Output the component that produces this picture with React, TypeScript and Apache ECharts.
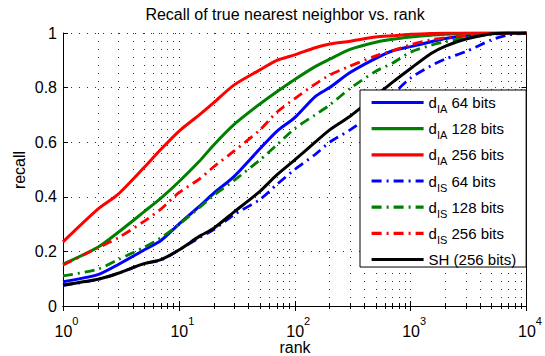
import React, { useEffect, useRef } from "react";
import * as echarts from "echarts";

const ranks = [1, 2, 3, 5, 7, 10, 15, 20, 30, 50, 70, 100, 150, 200, 300, 500, 700, 1000, 1500, 2000, 3000, 5000, 7000, 10000];

const dIA64 = [0.089, 0.115, 0.152, 0.205, 0.24, 0.3, 0.365, 0.413, 0.475, 0.576, 0.64, 0.69, 0.767, 0.8, 0.855, 0.907, 0.935, 0.95, 0.968, 0.98, 0.99, 0.998, 1, 1];
const dIA128 = [0.153, 0.215, 0.27, 0.345, 0.395, 0.455, 0.53, 0.59, 0.665, 0.74, 0.785, 0.83, 0.877, 0.904, 0.94, 0.966, 0.977, 0.985, 0.992, 0.995, 0.999, 1, 1, 1];
const dIA256 = [0.235, 0.355, 0.41, 0.507, 0.574, 0.64, 0.7, 0.745, 0.81, 0.865, 0.9, 0.92, 0.946, 0.96, 0.97, 0.985, 0.99, 0.995, 0.998, 1, 1, 1, 1, 1];
const dIS64 = [0.075, 0.097, 0.12, 0.155, 0.168, 0.205, 0.25, 0.28, 0.335, 0.39, 0.445, 0.5, 0.555, 0.6, 0.645, 0.712, 0.775, 0.835, 0.88, 0.905, 0.932, 0.975, 0.993, 1];
const dIS128 = [0.11, 0.135, 0.17, 0.215, 0.25, 0.298, 0.36, 0.405, 0.46, 0.535, 0.59, 0.65, 0.7, 0.736, 0.797, 0.86, 0.89, 0.93, 0.955, 0.968, 0.982, 0.994, 0.999, 1];
const dIS256 = [0.15, 0.213, 0.25, 0.31, 0.355, 0.415, 0.465, 0.51, 0.568, 0.645, 0.71, 0.76, 0.813, 0.846, 0.879, 0.916, 0.935, 0.957, 0.975, 0.983, 0.99, 0.997, 1, 1];
const SH256 = [0.077, 0.098, 0.12, 0.155, 0.17, 0.205, 0.255, 0.285, 0.345, 0.42, 0.48, 0.535, 0.6, 0.645, 0.695, 0.77, 0.82, 0.87, 0.925, 0.952, 0.978, 0.997, 1, 1];

const seriesNames = ["dIA 64 bits", "dIA 128 bits", "dIA 256 bits", "dIS 64 bits", "dIS 128 bits", "dIS 256 bits", "SH (256 bits)"];
const seriesValues = [dIA64, dIA128, dIA256, dIS64, dIS128, dIS256, SH256];
const seriesColors = ["#0000ff", "#008000", "#ff0000", "#0000ff", "#008000", "#ff0000", "#000000"];
const seriesDashed = [false, false, false, true, true, true, false];

const yTicks = [0, 0.2, 0.4, 0.6, 0.8, 1];

const titleText = "Recall of true nearest neighbor vs. rank";
const xName = "rank";
const yName = "recall";

const FONT = "'Liberation Sans', Arial, Helvetica, sans-serif";
const DOT: number[] = [1, 7];
const GRID_COLOR = "#333";

export default function App() {
  const ref = useRef<HTMLDivElement>(null);
  useEffect(() => {
    const chart = echarts.init(ref.current as HTMLDivElement, undefined, { renderer: "svg" });
    const series = seriesNames.map((name, i) => ({
      name,
      type: "line",
      xAxisIndex: 0,
      yAxisIndex: 0,
      symbol: "none",
      showSymbol: false,
      smooth: 0.25,
      data: ranks.map((r, j) => [r, seriesValues[i][j]]),
      lineStyle: {
        color: seriesColors[i],
        width: seriesDashed[i] ? 2.8 : 3,
        type: seriesDashed[i] ? [10, 5, 2, 5] : "solid",
      },
      itemStyle: { color: seriesColors[i] },
      z: 3 + i,
    }));

    const option: any = {
      animation: false,
      backgroundColor: "#ffffff",
      grid: { left: 63, right: 13, top: 33, bottom: 50, containLabel: false },
      xAxis: [
        {
          type: "log",
          logBase: 10,
          min: 1,
          max: 10000,
          position: "bottom",
          axisLine: { show: true, lineStyle: { color: "#000", width: 1 } },
          axisTick: { show: true, inside: true, length: 5, lineStyle: { color: "#000", width: 1 } },
          minorTick: { show: true, splitNumber: 9, length: 3, lineStyle: { color: "#000", width: 1 } },
          splitLine: { show: true, lineStyle: { color: GRID_COLOR, width: 1, type: DOT } },
          minorSplitLine: { show: true, lineStyle: { color: GRID_COLOR, width: 1, type: DOT } },
          axisLabel: {
            show: true,
            margin: 9,
            formatter: (v: number) => `{b|10}{s|${Math.round(Math.log10(v))}}`,
            rich: {
              b: { fontFamily: FONT, fontSize: 16, color: "#000", lineHeight: 24, verticalAlign: "bottom", padding: [0, 0, 0, 7] },
              s: { fontFamily: FONT, fontSize: 11, color: "#000", lineHeight: 24, verticalAlign: "top" },
            },
          },
        },
        {
          type: "log",
          logBase: 10,
          min: 1,
          max: 10000,
          position: "top",
          axisLine: { show: true, lineStyle: { color: "#000", width: 1 } },
          axisTick: { show: true, inside: true, length: 5, lineStyle: { color: "#000", width: 1 } },
          minorTick: { show: true, splitNumber: 9, length: 3, lineStyle: { color: "#000", width: 1 } },
          splitLine: { show: false },
          minorSplitLine: { show: false },
          axisLabel: { show: false },
        },
      ],
      yAxis: [
        {
          type: "value",
          min: 0,
          max: 1,
          interval: 0.2,
          position: "left",
          axisLine: { show: true, lineStyle: { color: "#000", width: 1 } },
          axisTick: { show: true, inside: true, length: 5, lineStyle: { color: "#000", width: 1 } },
          splitLine: { show: true, lineStyle: { color: GRID_COLOR, width: 1, type: DOT } },
          axisLabel: {
            show: true,
            margin: 6,
            fontFamily: FONT,
            fontSize: 16,
            color: "#000",
            formatter: (v: number) => {
              const t = yTicks.find((k) => Math.abs(k - v) < 1e-9);
              const val = t === undefined ? v : t;
              return val === 0 || val === 1 ? String(val) : val.toFixed(1);
            },
          },
        },
        {
          type: "value",
          min: 0,
          max: 1,
          interval: 0.2,
          position: "right",
          axisLine: { show: true, lineStyle: { color: "#000", width: 1 } },
          axisTick: { show: true, inside: true, length: 5, lineStyle: { color: "#000", width: 1 } },
          splitLine: { show: false },
          axisLabel: { show: false },
        },
      ],
      legend: {
        data: seriesNames,
        orient: "vertical",
        left: 360,
        top: 90,
        itemWidth: 52,
        itemHeight: 14,
        itemGap: 6.67,
        padding: [5, 10, 0, 10],
        backgroundColor: "#ffffff",
        borderColor: "#000000",
        borderWidth: 1,
        borderRadius: 0,
        selectedMode: false,
        itemStyle: { color: "rgba(0,0,0,0)", borderWidth: 0, opacity: 0 },
        lineStyle: { width: 3.2 },
        z: 20,
        formatter: (name: string) => {
          const m = /^d(IA|IS) (.*)$/.exec(name);
          if (m) return `{m|d}{s|${m[1]}}{m| ${m[2]}}`;
          return `{m|${name}}`;
        },
        textStyle: {
          fontFamily: FONT,
          fontSize: 15,
          color: "#000",
          rich: {
            m: { fontFamily: FONT, fontSize: 15, color: "#000", lineHeight: 24, verticalAlign: "middle" },
            s: { fontFamily: FONT, fontSize: 11, color: "#000", lineHeight: 24, verticalAlign: "bottom" },
          },
        },
      },
      graphic: [
        {
          type: "text",
          x: 285,
          y: 14,
          silent: true,
          style: {
            text: titleText,
            font: `16px ${FONT}`,
            fill: "#000",
            align: "center",
            verticalAlign: "middle",
            textAlign: "center",
            textVerticalAlign: "middle",
          },
        },
        {
          type: "text",
          x: 295,
          y: 347,
          silent: true,
          style: {
            text: xName,
            font: `16px ${FONT}`,
            fill: "#000",
            align: "center",
            verticalAlign: "middle",
            textAlign: "center",
            textVerticalAlign: "middle",
          },
        },
        {
          type: "text",
          x: 19,
          y: 170,
          rotation: Math.PI / 2,
          silent: true,
          style: {
            text: yName,
            font: `16px ${FONT}`,
            fill: "#000",
            align: "center",
            verticalAlign: "middle",
            textAlign: "center",
            textVerticalAlign: "middle",
          },
        },
      ],
      series,
    };
    chart.setOption(option);
    return () => chart.dispose();
  }, []);
  return <div ref={ref} style={{ position: "fixed", left: 0, top: 0, width: 545, height: 356 }} />;
}
